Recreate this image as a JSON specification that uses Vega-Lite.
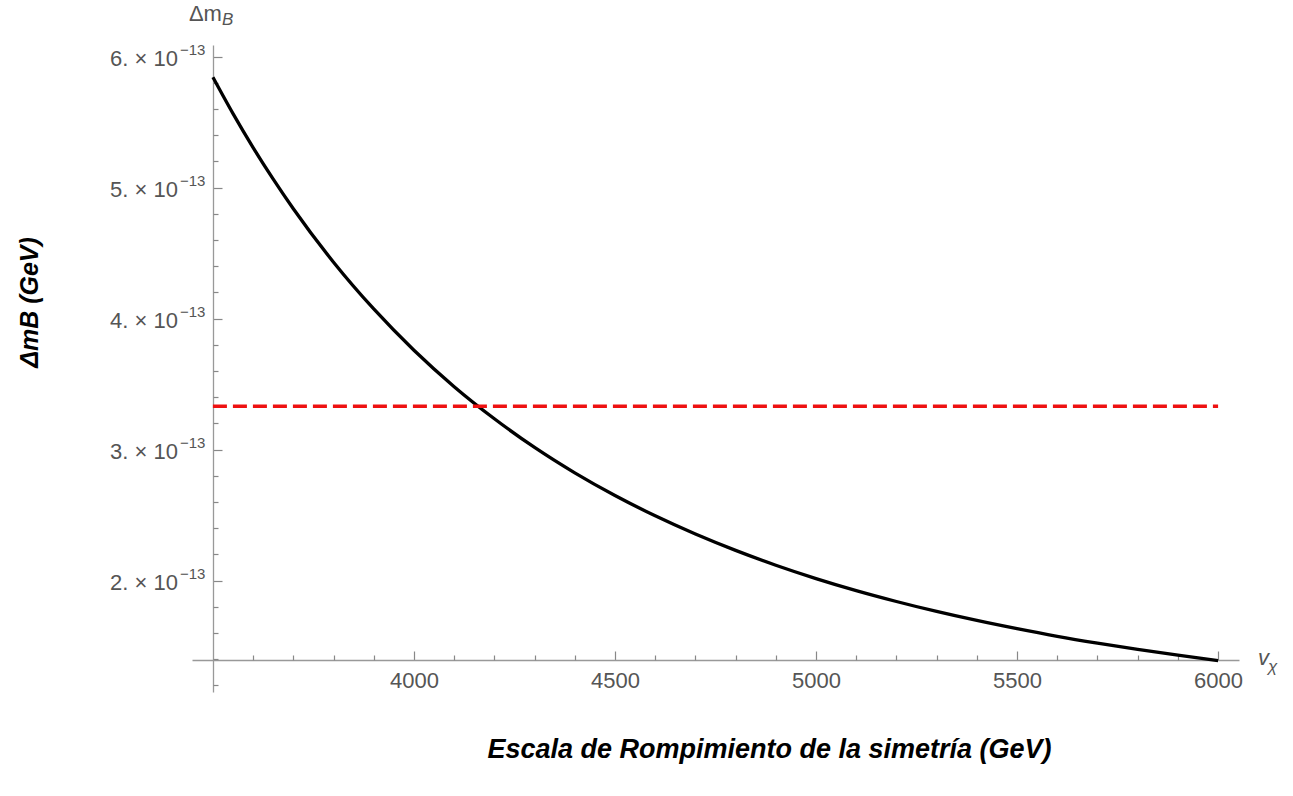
{
  "$schema": "https://vega.github.io/schema/vega-lite/v6.json",
  "width": 1047,
  "height": 647,
  "autosize": {"type": "none"},
  "padding": {"left": 192, "top": 45, "right": 54, "bottom": 104},
  "background": "white",
  "config": {"view": {"stroke": null}, "font": "Liberation Sans"},
  "resolve": {"axis": {"x": "independent", "y": "independent"}},
  "datasets": {
    "curve": [
      {"v": 3500, "m": 5.842e-13},
      {"v": 3550, "m": 5.564e-13},
      {"v": 3600, "m": 5.305e-13},
      {"v": 3650, "m": 5.064e-13},
      {"v": 3700, "m": 4.838e-13},
      {"v": 3800, "m": 4.430e-13},
      {"v": 3900, "m": 4.073e-13},
      {"v": 4000, "m": 3.758e-13},
      {"v": 4100, "m": 3.480e-13},
      {"v": 4200, "m": 3.235e-13},
      {"v": 4300, "m": 3.016e-13},
      {"v": 4400, "m": 2.822e-13},
      {"v": 4500, "m": 2.649e-13},
      {"v": 4600, "m": 2.494e-13},
      {"v": 4700, "m": 2.355e-13},
      {"v": 4800, "m": 2.230e-13},
      {"v": 4900, "m": 2.117e-13},
      {"v": 5000, "m": 2.015e-13},
      {"v": 5100, "m": 1.923e-13},
      {"v": 5200, "m": 1.840e-13},
      {"v": 5300, "m": 1.764e-13},
      {"v": 5400, "m": 1.695e-13},
      {"v": 5500, "m": 1.632e-13},
      {"v": 5600, "m": 1.574e-13},
      {"v": 5700, "m": 1.522e-13},
      {"v": 5800, "m": 1.474e-13},
      {"v": 5900, "m": 1.430e-13},
      {"v": 6000, "m": 1.389e-13}
    ],
    "limit": [
      {"v": 3500, "m": 3.33e-13},
      {"v": 6000, "m": 3.33e-13}
    ],
    "ylabels": [
      {"m": 2e-13, "base": "2. × 10"},
      {"m": 3e-13, "base": "3. × 10"},
      {"m": 4e-13, "base": "4. × 10"},
      {"m": 5e-13, "base": "5. × 10"},
      {"m": 6e-13, "base": "6. × 10"}
    ]
  },
  "layer": [
    {
      "data": {"name": "curve"},
      "mark": {"type": "line", "color": "black", "strokeWidth": 3.3, "interpolate": "monotone"},
      "encoding": {
        "x": {
          "field": "v", "type": "quantitative",
          "scale": {"domain": [3448, 6052], "nice": false, "zero": false},
          "axis": {
            "orient": "bottom", "offset": -32,
            "values": [4000, 4500, 5000, 5500, 6000],
            "format": "d",
            "tickSize": -9,
            "labelPadding": 19, "labelFontSize": 22, "labelColor": "#555555",
            "labelFlush": false, "labelOverlap": false,
            "domainColor": "#999999", "domainWidth": 1.3,
            "tickColor": "#888888", "tickWidth": 1.2, "grid": false,
            "title": "Escala de Rompimiento de la simetría (GeV)",
            "titleFontSize": 27, "titleFontWeight": "bold", "titleFontStyle": "italic",
            "titleColor": "black", "titleX": 577, "titlePadding": 45
          }
        },
        "y": {
          "field": "m", "type": "quantitative",
          "scale": {"domain": [1.149e-13, 6.088e-13], "nice": false, "zero": false},
          "axis": {
            "orient": "left", "offset": -21,
            "values": [2.0e-13, 3.0e-13, 4.0e-13, 5.0e-13, 6.0e-13],
            "labels": false,
            "tickSize": -9,
            "domainColor": "#999999", "domainWidth": 1.3,
            "tickColor": "#888888", "tickWidth": 1.2, "grid": false,
            "title": "ΔmB (GeV)",
            "titleFontSize": 25, "titleFontWeight": "bold", "titleFontStyle": "italic",
            "titleColor": "black", "titleX": -171, "titleY": 257
          }
        }
      }
    },
    {
      "data": {"name": "limit"},
      "mark": {"type": "line", "color": "#ee1111", "strokeWidth": 3.5, "strokeDash": [14, 6]},
      "encoding": {
        "x": {
          "field": "v", "type": "quantitative",
          "scale": {"domain": [3448, 6052], "nice": false, "zero": false},
          "axis": {
            "orient": "bottom", "offset": -32,
            "values": [3600, 3700, 3800, 3900, 4100, 4200, 4300, 4400, 4600, 4700, 4800, 4900, 5100, 5200, 5300, 5400, 5600, 5700, 5800, 5900],
            "tickSize": -5, "labels": false, "domain": false, "grid": false,
            "tickColor": "#888888", "tickWidth": 1.2, "title": null
          }
        },
        "y": {
          "field": "m", "type": "quantitative",
          "scale": {"domain": [1.149e-13, 6.088e-13], "nice": false, "zero": false},
          "axis": {
            "orient": "left", "offset": -21,
            "values": [1.2e-13, 1.4e-13, 1.6e-13, 1.8e-13, 2.2e-13, 2.4e-13, 2.6e-13, 2.8e-13, 3.2e-13, 3.4e-13, 3.6e-13, 3.8e-13, 4.2e-13, 4.4e-13, 4.6e-13, 4.8e-13, 5.2e-13, 5.4e-13, 5.6e-13, 5.8e-13],
            "tickSize": -5, "labels": false, "domain": false, "grid": false,
            "tickColor": "#888888", "tickWidth": 1.2, "title": null
          }
        }
      }
    },
    {
      "data": {"name": "ylabels"},
      "mark": {"type": "text", "align": "right", "baseline": "middle", "dx": -35, "dy": 2, "fontSize": 22, "color": "#555555"},
      "encoding": {
        "x": {"datum": 3500, "type": "quantitative", "scale": {"domain": [3448, 6052], "nice": false, "zero": false}, "axis": null},
        "y": {"field": "m", "type": "quantitative", "scale": {"domain": [1.149e-13, 6.088e-13], "nice": false, "zero": false}, "axis": null},
        "text": {"field": "base"}
      }
    },
    {
      "data": {"name": "ylabels"},
      "mark": {"type": "text", "text": "−13", "align": "left", "baseline": "middle", "dx": -33, "dy": -7, "fontSize": 15, "color": "#555555"},
      "encoding": {
        "x": {"datum": 3500, "type": "quantitative", "scale": {"domain": [3448, 6052], "nice": false, "zero": false}, "axis": null},
        "y": {"field": "m", "type": "quantitative", "scale": {"domain": [1.149e-13, 6.088e-13], "nice": false, "zero": false}, "axis": null}
      }
    },
    {
      "data": {"values": [{}]},
      "mark": {"type": "text", "text": "Δm", "align": "right", "baseline": "alphabetic", "dx": 9, "dy": -24, "fontSize": 22, "color": "#555555"},
      "encoding": {
        "x": {"datum": 3500, "type": "quantitative", "scale": {"domain": [3448, 6052], "nice": false, "zero": false}, "axis": null},
        "y": {"datum": 6.088e-13, "type": "quantitative", "scale": {"domain": [1.149e-13, 6.088e-13], "nice": false, "zero": false}, "axis": null}
      }
    },
    {
      "data": {"values": [{}]},
      "mark": {"type": "text", "text": "B", "align": "left", "baseline": "alphabetic", "dx": 9, "dy": -20, "fontSize": 17, "fontStyle": "italic", "color": "#555555"},
      "encoding": {
        "x": {"datum": 3500, "type": "quantitative", "scale": {"domain": [3448, 6052], "nice": false, "zero": false}, "axis": null},
        "y": {"datum": 6.088e-13, "type": "quantitative", "scale": {"domain": [1.149e-13, 6.088e-13], "nice": false, "zero": false}, "axis": null}
      }
    },
    {
      "data": {"values": [{}]},
      "mark": {"type": "text", "text": "v", "align": "left", "baseline": "alphabetic", "dx": 19, "dy": 5, "fontSize": 22, "fontStyle": "italic", "color": "#555555"},
      "encoding": {
        "x": {"datum": 6052, "type": "quantitative", "scale": {"domain": [3448, 6052], "nice": false, "zero": false}, "axis": null},
        "y": {"datum": 1.393e-13, "type": "quantitative", "scale": {"domain": [1.149e-13, 6.088e-13], "nice": false, "zero": false}, "axis": null}
      }
    },
    {
      "data": {"values": [{}]},
      "mark": {"type": "text", "text": "χ", "align": "left", "baseline": "alphabetic", "dx": 29, "dy": 12, "fontSize": 17, "fontStyle": "italic", "color": "#555555"},
      "encoding": {
        "x": {"datum": 6052, "type": "quantitative", "scale": {"domain": [3448, 6052], "nice": false, "zero": false}, "axis": null},
        "y": {"datum": 1.393e-13, "type": "quantitative", "scale": {"domain": [1.149e-13, 6.088e-13], "nice": false, "zero": false}, "axis": null}
      }
    }
  ]
}
